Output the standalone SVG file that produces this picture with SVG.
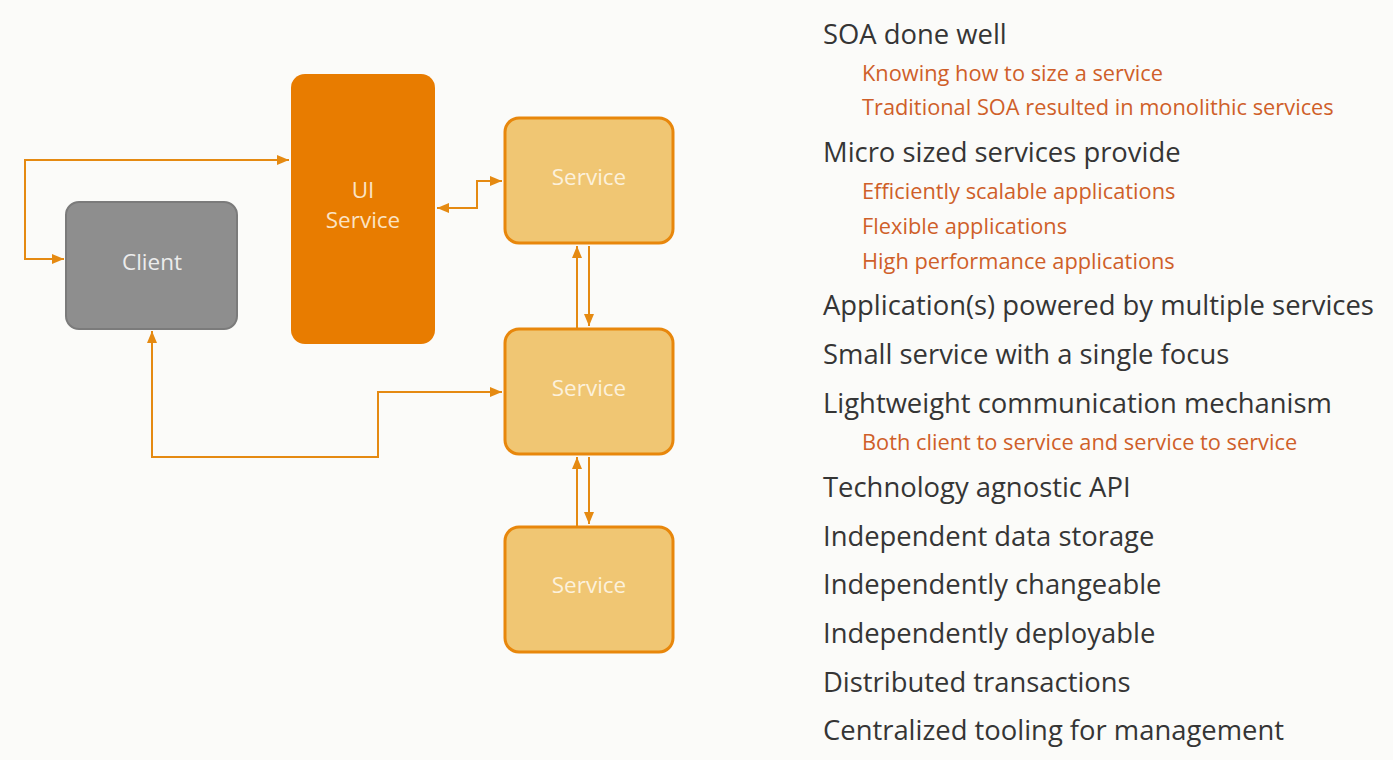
<svg xmlns="http://www.w3.org/2000/svg" width="1393" height="760" viewBox="0 0 1393 760">
<defs>
<marker id="ah" viewBox="0 0 12 10" refX="12" refY="5" markerWidth="12" markerHeight="10" markerUnits="userSpaceOnUse" orient="auto-start-reverse">
<path d="M0,0 L12,5 L0,10 z" fill="#e58a12"/>
</marker>
<style>
.lbl{font-family:"Open Sans","Noto Sans",sans-serif;font-size:22.5px;text-anchor:middle}
.main{font-family:"Open Sans","Noto Sans",sans-serif;font-size:27.4px;fill:#353535}
.sub{font-family:"Open Sans","Noto Sans",sans-serif;font-size:21.8px;fill:#cf5f29}
.svc rect{fill:#f0c673;stroke:#e8870c;stroke-width:3}
.svc text{fill:#fcf1dc}
.conn path{fill:none;stroke:#e58a12;stroke-width:2}
</style>
</defs>
<rect width="1393" height="760" fill="#fbfbf9"/>
<g id="connectors" class="conn">
<path d="M64,259 H25 V160 H289" marker-start="url(#ah)" marker-end="url(#ah)"/>
<path d="M437,208 H477 V181 H502" marker-start="url(#ah)" marker-end="url(#ah)"/>
<path d="M577,328 V246" marker-end="url(#ah)"/>
<path d="M589,246 V326" marker-end="url(#ah)"/>
<path d="M152,331 V457 H378 V392 H502" marker-start="url(#ah)" marker-end="url(#ah)"/>
<path d="M577,526 V457" marker-end="url(#ah)"/>
<path d="M589,457 V524" marker-end="url(#ah)"/>
</g>
<g id="client">
<rect x="66" y="202" width="171" height="127" rx="13" fill="#8e8e8e" stroke="#7b7b7b" stroke-width="2"/>
<text class="lbl" x="152" y="270" fill="#ececec">Client</text>
</g>
<g id="ui-service">
<rect x="291" y="74" width="144" height="270" rx="14" fill="#e87c00"/>
<text class="lbl" x="363" y="198" fill="#fbe3c4">UI</text>
<text class="lbl" x="363" y="228" fill="#fbe3c4">Service</text>
</g>
<g id="service-1" class="svc">
<rect x="505" y="118" width="168" height="125" rx="14"/>
<text class="lbl" x="589" y="185">Service</text>
</g>
<g id="service-2" class="svc">
<rect x="505" y="329" width="168" height="125" rx="14"/>
<text class="lbl" x="589" y="396">Service</text>
</g>
<g id="service-3" class="svc">
<rect x="505" y="527" width="168" height="125" rx="14"/>
<text class="lbl" x="589" y="593">Service</text>
</g>
<g id="notes">
<text class="main" x="823" y="44">SOA done well</text>
<text class="sub" x="862" y="81">Knowing how to size a service</text>
<text class="sub" x="862" y="115">Traditional SOA resulted in monolithic services</text>
<text class="main" x="823" y="162">Micro sized services provide</text>
<text class="sub" x="862" y="199">Efficiently scalable applications</text>
<text class="sub" x="862" y="234">Flexible applications</text>
<text class="sub" x="862" y="269">High performance applications</text>
<text class="main" x="823" y="315">Application(s) powered by multiple services</text>
<text class="main" x="823" y="364">Small service with a single focus</text>
<text class="main" x="823" y="413">Lightweight communication mechanism</text>
<text class="sub" x="862" y="450">Both client to service and service to service</text>
<text class="main" x="823" y="497">Technology agnostic API</text>
<text class="main" x="823" y="546">Independent data storage</text>
<text class="main" x="823" y="594">Independently changeable</text>
<text class="main" x="823" y="643">Independently deployable</text>
<text class="main" x="823" y="692">Distributed transactions</text>
<text class="main" x="823" y="740">Centralized tooling for management</text>
</g>
</svg>
